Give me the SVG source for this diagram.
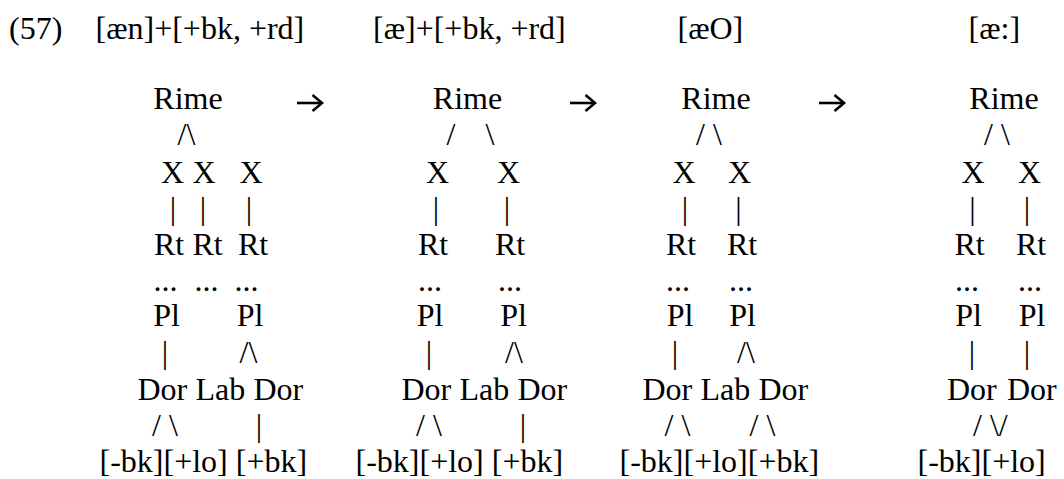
<svg xmlns="http://www.w3.org/2000/svg" width="1064" height="479" viewBox="0 0 1064 479">
  <style>
    text { font-family: "Liberation Serif", "Times New Roman", serif; font-size: 32px; fill: #000; }
    .c { text-anchor: middle; }
    .arr { fill: none; stroke: #000; stroke-width: 2.6; stroke-linejoin: miter; }
  </style>
  <defs>
    <!-- stage arrow, origin at the left end of the shaft -->
    <g id="stage-arrow">
      <path class="arr" d="M0 0 H24"/>
      <path class="arr" d="M15.5 -8 L25 0 L15.5 8"/>
    </g>
  </defs>
  <rect width="1064" height="479" fill="#fff"/>

  <!-- example number and stage forms -->
  <g id="labels">
    <g id="ex-num"><text x="9" y="39">(57)</text></g>
    <g id="form-1"><text x="95.5" y="39">[æn]+[+bk, +rd]</text></g>
    <g id="form-2"><text x="373" y="39">[æ]+[+bk, +rd]</text></g>
    <g id="form-3"><text x="677.5" y="39">[æO]</text></g>
    <g id="form-4"><text x="968.5" y="39">[æ:]</text></g>
  </g>

  <!-- tree 1 -->
  <g id="t1">
    <g id="t1-rime"><text class="c" x="188" y="109">Rime</text></g>
    <g id="t1-x1"><text class="c" x="172.5" y="183">X</text></g>
    <g id="t1-x2"><text class="c" x="204" y="183">X</text></g>
    <g id="t1-x3"><text class="c" x="251" y="183">X</text></g>
    <g id="t1-rt1"><text class="c" x="169" y="255">Rt</text></g>
    <g id="t1-rt2"><text class="c" x="207.5" y="255">Rt</text></g>
    <g id="t1-rt3"><text class="c" x="253" y="255">Rt</text></g>
    <g id="t1-e1"><text class="c" x="165.5" y="291">...</text></g>
    <g id="t1-e2"><text class="c" x="206.5" y="291">...</text></g>
    <g id="t1-e3"><text class="c" x="246.5" y="291">...</text></g>
    <g id="t1-pl1"><text class="c" x="166.5" y="326">Pl</text></g>
    <g id="t1-pl2"><text class="c" x="250" y="326">Pl</text></g>
    <g id="t1-dor1"><text x="137.5" y="400">Dor</text></g>
    <g id="t1-lab"><text x="195.5" y="400">Lab</text></g>
    <g id="t1-dor2"><text x="253.5" y="400">Dor</text></g>
    <g id="t1-f1"><text x="99.5" y="472">[-bk]</text></g>
    <g id="t1-f2"><text x="163.5" y="472">[+lo]</text></g>
    <g id="t1-f3"><text x="235.8" y="472">[+bk]</text></g>
  </g>

  <!-- tree 2 -->
  <g id="t2">
    <g id="t2-rime"><text class="c" x="467.5" y="109">Rime</text></g>
    <g id="t2-x1"><text class="c" x="437.5" y="183">X</text></g>
    <g id="t2-x2"><text class="c" x="508.5" y="183">X</text></g>
    <g id="t2-rt1"><text class="c" x="433" y="255">Rt</text></g>
    <g id="t2-rt2"><text class="c" x="510" y="255">Rt</text></g>
    <g id="t2-e1"><text class="c" x="430" y="291">...</text></g>
    <g id="t2-e2"><text class="c" x="510" y="291">...</text></g>
    <g id="t2-pl1"><text class="c" x="430" y="326">Pl</text></g>
    <g id="t2-pl2"><text class="c" x="513.5" y="326">Pl</text></g>
    <g id="t2-dor1"><text x="401.5" y="400">Dor</text></g>
    <g id="t2-lab"><text x="459.5" y="400">Lab</text></g>
    <g id="t2-dor2"><text x="517.5" y="400">Dor</text></g>
    <g id="t2-f1"><text x="355.5" y="472">[-bk]</text></g>
    <g id="t2-f2"><text x="419.5" y="472">[+lo]</text></g>
    <g id="t2-f3"><text x="491.8" y="472">[+bk]</text></g>
  </g>

  <!-- tree 3 -->
  <g id="t3">
    <g id="t3-rime"><text class="c" x="716" y="109">Rime</text></g>
    <g id="t3-x1"><text class="c" x="684" y="183">X</text></g>
    <g id="t3-x2"><text class="c" x="739.5" y="183">X</text></g>
    <g id="t3-rt1"><text class="c" x="681" y="255">Rt</text></g>
    <g id="t3-rt2"><text class="c" x="742" y="255">Rt</text></g>
    <g id="t3-e1"><text class="c" x="678" y="291">...</text></g>
    <g id="t3-e2"><text class="c" x="741" y="291">...</text></g>
    <g id="t3-pl1"><text class="c" x="680" y="326">Pl</text></g>
    <g id="t3-pl2"><text class="c" x="742.5" y="326">Pl</text></g>
    <g id="t3-dor1"><text x="642.5" y="400">Dor</text></g>
    <g id="t3-lab"><text x="700.5" y="400">Lab</text></g>
    <g id="t3-dor2"><text x="758.5" y="400">Dor</text></g>
    <g id="t3-f1"><text x="619.5" y="472">[-bk]</text></g>
    <g id="t3-f2"><text x="683.5" y="472">[+lo]</text></g>
    <g id="t3-f3"><text x="747.8" y="472">[+bk]</text></g>
  </g>

  <!-- tree 4 -->
  <g id="t4">
    <g id="t4-rime"><text class="c" x="1004" y="109">Rime</text></g>
    <g id="t4-x1"><text class="c" x="973" y="183">X</text></g>
    <g id="t4-x2"><text class="c" x="1029.5" y="183">X</text></g>
    <g id="t4-rt1"><text class="c" x="969.5" y="255">Rt</text></g>
    <g id="t4-rt2"><text class="c" x="1031" y="255">Rt</text></g>
    <g id="t4-e1"><text class="c" x="967" y="291">...</text></g>
    <g id="t4-e2"><text class="c" x="1030" y="291">...</text></g>
    <g id="t4-pl1"><text class="c" x="968.5" y="326">Pl</text></g>
    <g id="t4-pl2"><text class="c" x="1032" y="326">Pl</text></g>
    <g id="t4-dor1"><text x="947" y="400">Dor</text></g>
    <g id="t4-dor2"><text x="1007" y="400">Dor</text></g>
    <g id="t4-f1"><text x="917.5" y="472">[-bk]</text></g>
    <g id="t4-f2"><text x="981.5" y="472">[+lo]</text></g>
  </g>

  <!-- association lines (typed strokes) and stage arrows -->
  <g id="connectors">
    <text class="c" x="186.5" y="145">/\</text>
    <text class="c" x="173" y="219">|</text>
    <text class="c" x="203" y="219">|</text>
    <text class="c" x="249" y="219">|</text>
    <text class="c" x="165" y="363">|</text>
    <text class="c" x="248.5" y="363">/\</text>
    <text class="c" x="165" y="436" xml:space="preserve">/ \</text>
    <text class="c" x="259" y="436">|</text>

    <text class="c" x="451" y="145">/</text>
    <text class="c" x="490" y="145">\</text>
    <text class="c" x="436" y="219">|</text>
    <text class="c" x="507" y="219">|</text>
    <text class="c" x="429" y="363">|</text>
    <text class="c" x="514" y="363">/\</text>
    <text class="c" x="429" y="436" xml:space="preserve">/ \</text>
    <text class="c" x="523" y="436">|</text>

    <text class="c" x="709" y="145" xml:space="preserve">/ \</text>
    <text class="c" x="685" y="219">|</text>
    <text class="c" x="738.5" y="219">|</text>
    <text class="c" x="675" y="363">|</text>
    <text class="c" x="746" y="363">/\</text>
    <text class="c" x="677.5" y="436" xml:space="preserve">/ \</text>
    <text class="c" x="762.5" y="436" xml:space="preserve">/ \</text>

    <text class="c" x="997" y="145" xml:space="preserve">/ \</text>
    <text class="c" x="972.5" y="219">|</text>
    <text class="c" x="1027" y="219">|</text>
    <text class="c" x="972" y="363">|</text>
    <text class="c" x="1027" y="363">|</text>
    <text x="973" y="436" xml:space="preserve">/ \/</text>

    <use href="#stage-arrow" x="297" y="103"/>
    <use href="#stage-arrow" x="570" y="103"/>
    <use href="#stage-arrow" x="819" y="103"/>
  </g>
</svg>
